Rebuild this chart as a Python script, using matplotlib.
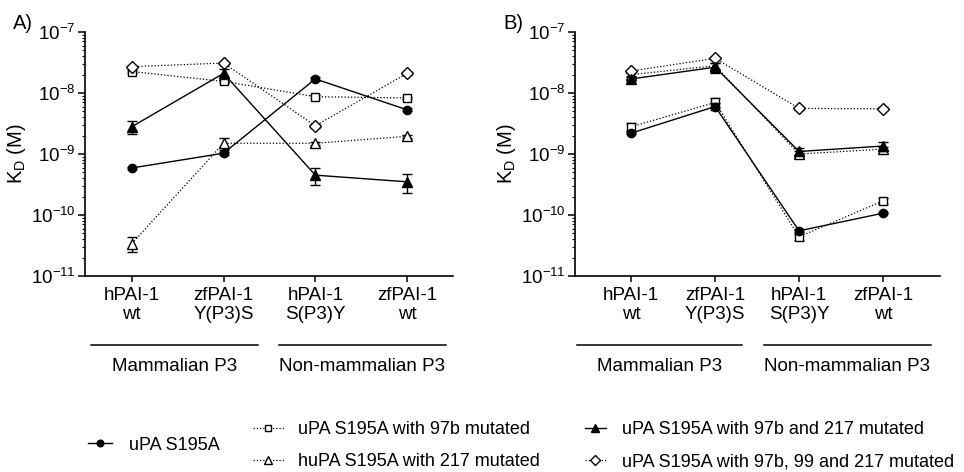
import matplotlib
matplotlib.use("Agg")
import matplotlib.pyplot as plt
import matplotlib.transforms as mtransforms
from matplotlib.lines import Line2D
import numpy as np

plt.rcParams['font.family'] = ['Liberation Sans', 'DejaVu Sans']
plt.rcParams['mathtext.fontset'] = 'custom'
plt.rcParams['mathtext.rm'] = 'Liberation Sans'
plt.rcParams['mathtext.it'] = 'Liberation Sans:italic'
plt.rcParams['mathtext.bf'] = 'Liberation Sans:bold'

# ---------------- data ----------------
categories = ["hPAI-1\nwt", "zfPAI-1\nY(P3)S", "hPAI-1\nS(P3)Y", "zfPAI-1\nwt"]
groups = ["Mammalian P3", "Non-mammalian P3"]
ytick_vals = [1e-11, 1e-10, 1e-9, 1e-8, 1e-7]
ytick_labels = [r'$\mathregular{10^{-11}}$', r'$\mathregular{10^{-10}}$',
                r'$\mathregular{10^{-9}}$', r'$\mathregular{10^{-8}}$',
                r'$\mathregular{10^{-7}}$']

series_names = ["uPA S195A",
                "uPA S195A with 97b mutated",
                "huPA S195A with 217 mutated",
                "uPA S195A with 97b and 217 mutated",
                "uPA S195A with 97b, 99 and 217 mutated"]

# Panel A values (M)
a_upa = [5.9e-10, 1.03e-9, 1.7e-8, 5.3e-9]
a_97b = [2.25e-8, 1.55e-8, 8.7e-9, 8.3e-9]
a_217 = [3.4e-11, 1.5e-9, 1.5e-9, 1.95e-9]
a_97b217 = [2.8e-9, 2.1e-8, 4.5e-10, 3.5e-10]
a_97b99217 = [2.7e-8, 3.1e-8, 2.9e-9, 2.1e-8]
a_upa_err = [0.3e-10, 0.5e-10, 1.0e-9, 0.3e-9]
a_97b_err = [1.5e-9, 1.0e-9, 0.5e-9, 0.3e-9]
a_217_err = [0.9e-11, 0.35e-9, 0.1e-9, 0.1e-9]
a_97b217_err = [0.7e-9, 0.4e-8, 1.4e-10, 1.2e-10]
a_97b99217_err = [1.0e-9, 1.0e-9, 0.2e-9, 1.0e-9]

# Panel B values (M)
b_upa = [2.2e-9, 6.0e-9, 5.5e-11, 1.07e-10]
b_97b = [2.8e-9, 7.0e-9, 4.4e-11, 1.7e-10]
b_217 = [2.0e-8, 2.8e-8, 1.0e-9, 1.2e-9]
b_97b217 = [1.7e-8, 2.65e-8, 1.1e-9, 1.35e-9]
b_97b99217 = [2.3e-8, 3.7e-8, 5.6e-9, 5.5e-9]
b_upa_err = [0.1e-9, 0.8e-9, 0.3e-11, 0.05e-10]
b_97b_err = [0.4e-9, 1.3e-9, 0.5e-11, 0.2e-10]
b_217_err = [1.0e-9, 0.3e-8, 0.1e-9, 0.1e-9]
b_97b217_err = [1.0e-9, 0.5e-8, 0.15e-9, 0.25e-9]
b_97b99217_err = [1.0e-9, 1.0e-9, 0.3e-9, 0.3e-9]

# ---------------- styles ----------------
DOT = (0, (1, 1.6))
styles = [
    dict(marker='o', ls='-', mfc='black', ms=6.0, lw=1.0),
    dict(marker='s', ls=DOT, mfc='white', ms=5.5, lw=0.9),
    dict(marker='^', ls=DOT, mfc='white', ms=7.5, lw=0.9),
    dict(marker='^', ls='-', mfc='black', ms=7.5, lw=1.0),
    dict(marker='D', ls=DOT, mfc='white', ms=6.0, lw=0.9),
]

FS = 13.5
LFS = 13

fig = plt.figure(figsize=(9.64, 4.72), dpi=100)
W, H = 964, 472


def px_axes(x0, x1, ytop, ybot):
    return fig.add_axes([x0 / W, 1 - ybot / H, (x1 - x0) / W, (ybot - ytop) / H])


axA = px_axes(85, 453, 32, 276)
axB = px_axes(575, 940, 32, 276)

panels = [
    (axA, [a_upa, a_97b, a_217, a_97b217, a_97b99217],
     [a_upa_err, a_97b_err, a_217_err, a_97b217_err, a_97b99217_err],
     (-0.51, 3.5), [(-0.44, 1.37), (1.60, 3.42)], "A)"),
    (axB, [b_upa, b_97b, b_217, b_97b217, b_97b99217],
     [b_upa_err, b_97b_err, b_217_err, b_97b217_err, b_97b99217_err],
     (-0.67, 3.68), [(-0.65, 1.32), (1.58, 3.57)], "B)"),
]

x = np.arange(len(categories))
order = [1, 2, 4, 0, 3]
for ax, vals, errs, xlim, glines, letter in panels:
    ax.set_yscale('log')
    for i in order:
        st = styles[i]
        ax.errorbar(x, vals[i], yerr=errs[i], color='black', marker=st['marker'],
                    ls=st['ls'], lw=st['lw'], mfc=st['mfc'], mec='black', mew=1.0,
                    ms=st['ms'], capsize=3.5, elinewidth=1.0, capthick=1.0,
                    zorder=3 if st['mfc'] == 'black' else 2, clip_on=False)
    ax.set_ylim(1e-11, 1e-7)
    ax.set_xlim(*xlim)
    ax.set_yticks(ytick_vals)
    ax.set_yticklabels(ytick_labels, fontsize=FS)
    ax.set_xticks(x)
    ax.set_xticklabels(categories, fontsize=FS, linespacing=1.12)
    for s in ['top', 'right']:
        ax.spines[s].set_visible(False)
    for s in ['left', 'bottom']:
        ax.spines[s].set_linewidth(1.2)
    ax.tick_params(axis='y', which='major', direction='out', length=5, width=1.1, pad=2)
    ax.tick_params(axis='y', which='minor', direction='out', length=2.5, width=0.8)
    ax.tick_params(axis='x', which='major', direction='out', length=4, width=1.1, pad=4)
    ax.tick_params(axis='x', which='minor', length=0)
    ax.set_ylabel(r'K$_\mathregular{D}$ (M)', fontsize=14.5, labelpad=4)
    ax.yaxis.set_label_coords(-0.155, 0.5)
    trans = mtransforms.blended_transform_factory(ax.transData, ax.transAxes)
    for (g0, g1), gname in zip(glines, groups):
        ax.plot([g0, g1], [-0.282, -0.282], color='black', lw=1.1,
                transform=trans, clip_on=False)
        ax.text((g0 + g1) / 2, -0.372, gname, transform=trans, ha='center',
                va='center', fontsize=FS)
    ax.text(-0.195, 1.035, letter, transform=ax.transAxes, fontsize=14.5,
            ha='left', va='center')

# ---------------- legend ----------------
def handle(i):
    st = styles[i]
    return Line2D([], [], color='black', marker=st['marker'], ls=st['ls'],
                  lw=st['lw'], mfc=st['mfc'], mec='black', mew=1.0,
                  ms=st['ms'] * 0.8)


common = dict(frameon=False, fontsize=LFS, loc='center left', borderaxespad=0,
              borderpad=0, labelspacing=0.85)
fig.legend([handle(0)], [series_names[0]], bbox_to_anchor=(88 / W, 1 - 445 / H),
           handlelength=1.35, handletextpad=0.9, **common)
fig.legend([handle(1), handle(2)], [series_names[1], series_names[2]],
           bbox_to_anchor=(253 / W, 1 - 445.5 / H), handlelength=1.7,
           handletextpad=0.8, **common)
fig.legend([handle(3), handle(4)], [series_names[3], series_names[4]],
           bbox_to_anchor=(585 / W, 1 - 445.5 / H), handlelength=1.15,
           handletextpad=0.9, **common)

fig.savefig("out.png", dpi=100)
